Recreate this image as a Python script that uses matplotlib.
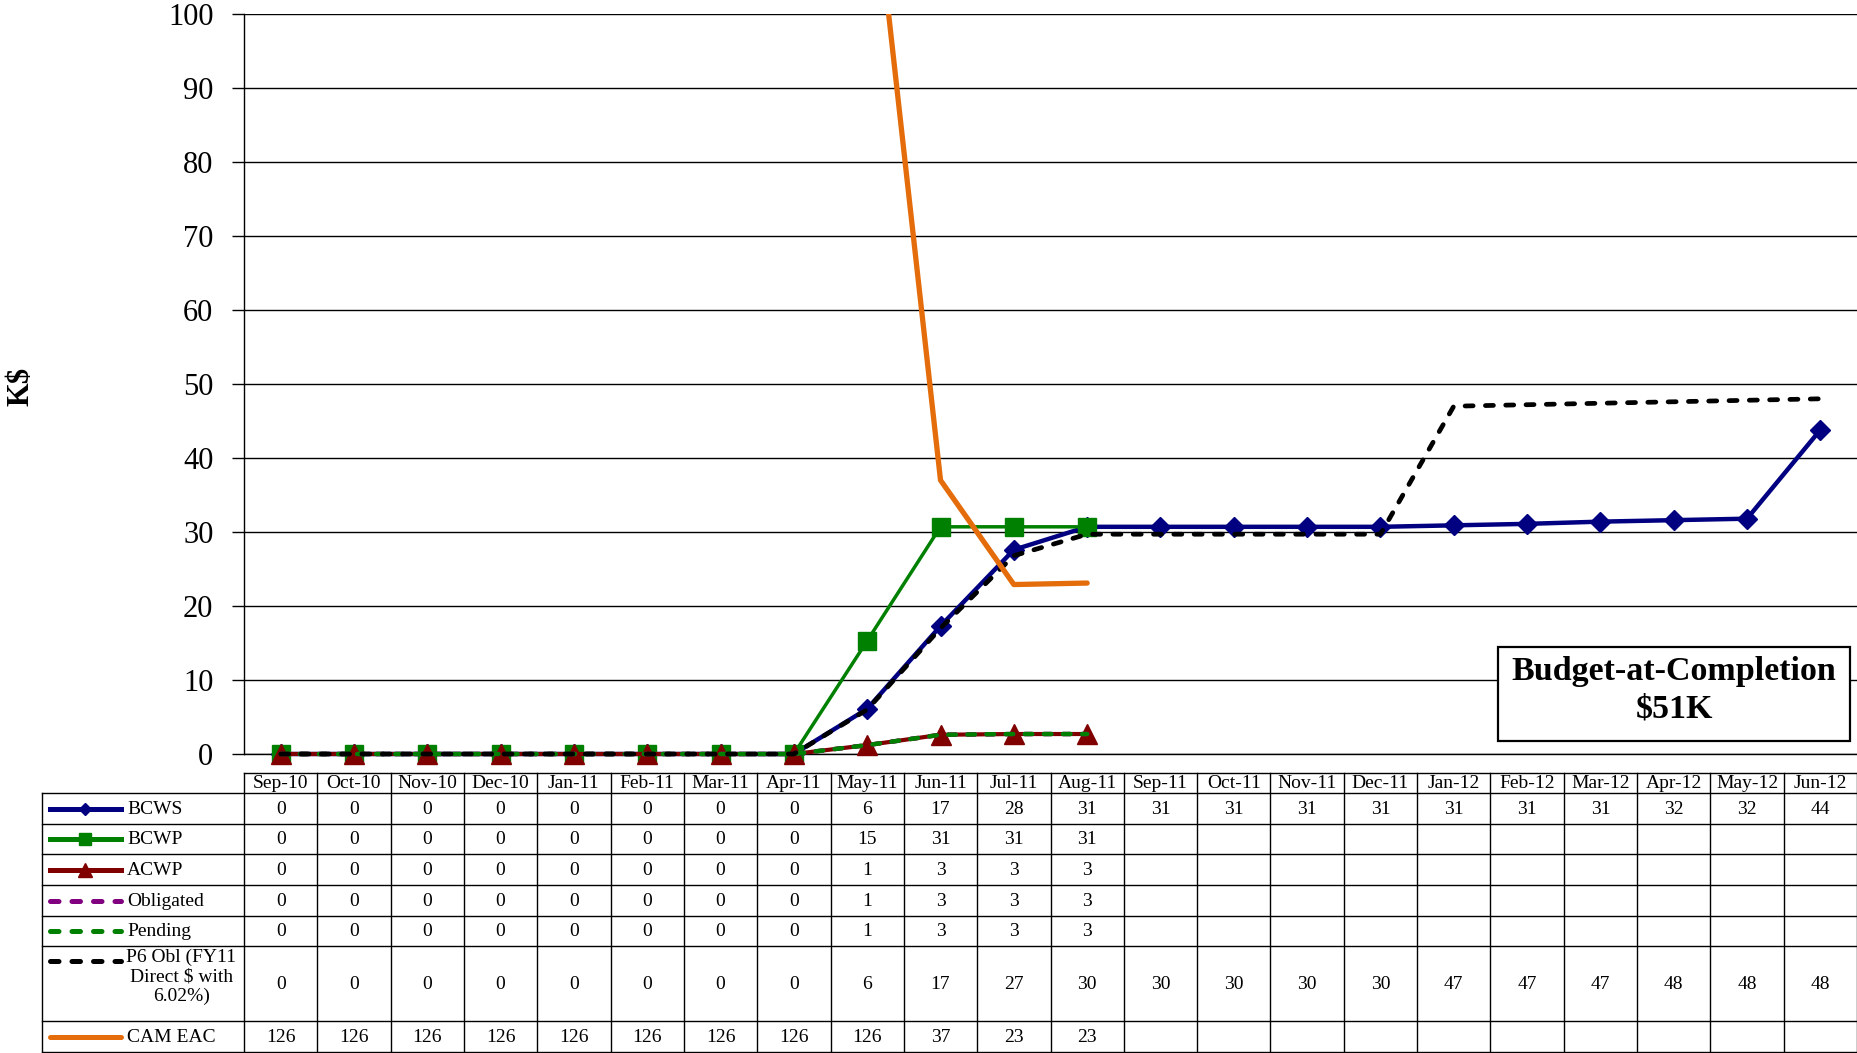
import numpy as np
import matplotlib
matplotlib.use("Agg")
import matplotlib.pyplot as plt
from matplotlib.transforms import Affine2D, blended_transform_factory
from matplotlib.lines import Line2D
from matplotlib.patches import Rectangle

# ---------------- data ----------------
months = ['Sep-10', 'Oct-10', 'Nov-10', 'Dec-10', 'Jan-11', 'Feb-11', 'Mar-11', 'Apr-11',
          'May-11', 'Jun-11', 'Jul-11', 'Aug-11', 'Sep-11', 'Oct-11', 'Nov-11', 'Dec-11',
          'Jan-12', 'Feb-12', 'Mar-12', 'Apr-12', 'May-12', 'Jun-12']
nan = np.nan
bcws = [0, 0, 0, 0, 0, 0, 0, 0, 6.1, 17.3, 27.6, 30.7, 30.7, 30.7, 30.7, 30.7,
        30.9, 31.1, 31.4, 31.6, 31.8, 43.8]
bcwp = [0, 0, 0, 0, 0, 0, 0, 0, 15.3, 30.7, 30.7, 30.7] + [nan] * 10
acwp = [0, 0, 0, 0, 0, 0, 0, 0, 1.2, 2.6, 2.7, 2.7] + [nan] * 10
obligated = [0, 0, 0, 0, 0, 0, 0, 0, 1.2, 2.6, 2.7, 2.7] + [nan] * 10
pending = [0, 0, 0, 0, 0, 0, 0, 0, 1.2, 2.6, 2.7, 2.7] + [nan] * 10
p6_obl = [0, 0, 0, 0, 0, 0, 0, 0, 6.0, 17.0, 26.8, 29.7, 29.7, 29.7, 29.7, 29.7,
          47.0, 47.2, 47.4, 47.6, 47.8, 48.0]
cam_eac = [126, 126, 126, 126, 126, 126, 126, 126, 126, 37.0, 22.9, 23.1] + [nan] * 10
yticks = [0, 10, 20, 30, 40, 50, 60, 70, 80, 90, 100]
series_names = ['BCWS', 'BCWP', 'ACWP', 'Obligated', 'Pending',
                'P6 Obl (FY11\nDirect $ with\n6.02%)', 'CAM EAC']
bac_text = 'Budget-at-Completion\n$51K'

# ---------------- styling ----------------
W, H = 1858, 1053
plt.rcParams['font.family'] = ['Liberation Serif', 'DejaVu Serif']
fig = plt.figure(figsize=(W / 100, H / 100), dpi=100)

ax_left, ax_right, ax_top, ax_bottom = 244, 1857, 14, 754
ax = fig.add_axes([ax_left / W, 1 - ax_bottom / H, (ax_right - ax_left) / W, (ax_bottom - ax_top) / H])
x = np.arange(len(months))

dash = (0, (1.7, 2.6))
styles = [
    dict(color='#000080', lw=3.2, marker='D', ms=10, ls='-', clip_on=False),
    dict(color='#008000', lw=2.5, marker='s', ms=13.5, ls='-', clip_on=False),
    dict(color='#800000', lw=3.0, marker='^', ms=14.5, ls='-', clip_on=False),
    dict(color='#800080', lw=3.2, ls=dash, dash_capstyle='round', clip_on=False),
    dict(color='#008000', lw=3.2, ls=dash, dash_capstyle='round', clip_on=False),
    dict(color='#000000', lw=3.4, ls=dash, dash_capstyle='round', clip_on=False),
    dict(color='#E46C0A', lw=3.8, ls='-', solid_capstyle='round', clip_on=True),
]
all_series = [bcws, bcwp, acwp, obligated, pending, p6_obl, cam_eac]

for i, (vals, st) in enumerate(zip(all_series, styles)):
    ax.plot(x, vals, zorder=3 + i, **st)

ax.set_xlim(-0.5, len(months) - 0.5)
ax.set_ylim(0, 100)
ax.set_yticks(yticks)
ax.yaxis.grid(True, color='black', lw=1.0)
ax.set_axisbelow(True)
ax.set_xticks([])
for s in ['top', 'right']:
    ax.spines[s].set_visible(False)
for s in ['left', 'bottom']:
    ax.spines[s].set_color('black')
    ax.spines[s].set_linewidth(1.0)
ax.tick_params(axis='y', direction='out', length=9, width=1, labelsize=22, pad=13)

# pixel transform (x from left, y from top)
pix = Affine2D().scale(1 / W, -1 / H).translate(0, 1) + fig.transFigure
colpix = blended_transform_factory(ax.transData, pix)

# y-axis label
fig.text(21 / W, 1 - 386 / H, 'K$', rotation=90, ha='center', va='center',
         fontsize=22, fontweight='bold', parse_math=False)

# ---------------- data table ----------------
row_edges = [773, 793, 824, 854, 885, 916, 946, 1021, 1052]
leg_left = 42
tfs = 14
lk = dict(color='black', lw=1.0)

# horizontal lines
fig.add_artist(Line2D([ax_left, W], [row_edges[0]] * 2, transform=pix, **lk))
for ye in row_edges[1:]:
    fig.add_artist(Line2D([leg_left, W], [ye, ye], transform=pix, **lk))
# vertical lines
for b in np.arange(len(months) + 1) - 0.5:
    fig.add_artist(Line2D([b, b], [row_edges[0], row_edges[-1]], transform=colpix, **lk))
fig.add_artist(Line2D([leg_left, leg_left], [row_edges[1], row_edges[-1]], transform=pix, **lk))

# header
hy = (row_edges[0] + row_edges[1]) / 2
for xi, m in zip(x, months):
    fig.text(xi, hy + 1, m, transform=colpix, ha='center', va='center', fontsize=tfs)

# rows
for r, (name, vals, st) in enumerate(zip(series_names, all_series, styles)):
    top, bot = row_edges[r + 1], row_edges[r + 2]
    cy = (top + bot) / 2
    for xi, v in zip(x, vals):
        txt = '' if np.isnan(v) else f'{int(round(v))}'
        fig.text(xi, cy + 1, txt, transform=colpix, ha='center', va='center', fontsize=tfs)
    # legend key
    ky = cy if '\n' not in name else top + 15
    kst = {k: v for k, v in st.items() if k not in ('clip_on', 'marker', 'ms')}
    kst['lw'] = 3.6
    fig.add_artist(Line2D([50, 121], [ky, ky], transform=pix, **kst))
    if 'marker' in st:
        fig.add_artist(Line2D([85.5], [ky], transform=pix, color=st['color'], marker=st['marker'],
                              ms=st['ms'] * 0.65, ls='none'))
    if '\n' in name:
        fig.text(181.5, top + 3, name, transform=pix, ha='center', va='top', fontsize=tfs,
                 multialignment='center', linespacing=1.17, parse_math=False)
    else:
        fig.text(127, cy + 1, name, transform=pix, ha='left', va='center', fontsize=tfs)

# ---------------- Budget-at-Completion box ----------------
fig.add_artist(Rectangle((1498, 647), 352, 94, transform=pix, fill=True, facecolor='white',
                         edgecolor='black', lw=1.6, zorder=20))
fig.text(1674, 690, bac_text, transform=pix, ha='center', va='center', fontsize=24.5,
         fontweight='bold', multialignment='center', linespacing=1.25, parse_math=False, zorder=21)

fig.savefig('out.png', dpi=100)
